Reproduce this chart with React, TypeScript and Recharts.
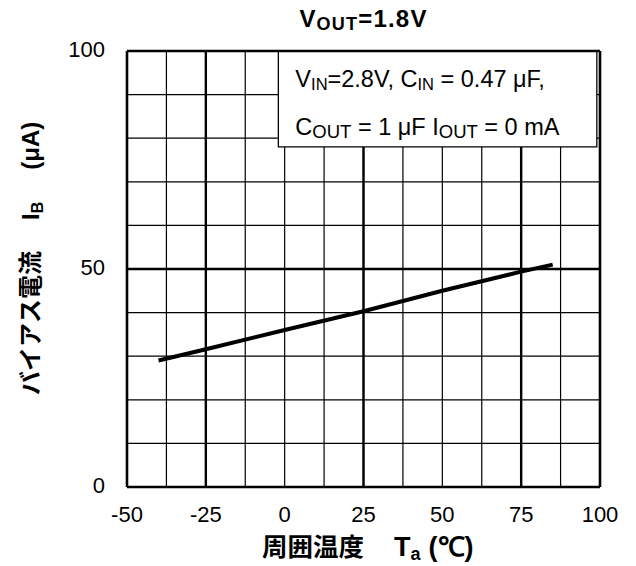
import { CartesianGrid, Label, Line, LineChart, ReferenceArea, ReferenceLine, XAxis, YAxis } from "recharts"

const temps = [-40, -25, 0, 25, 50, 75, 85]
const biasCurrent = [29.0, 31.6, 36.0, 40.3, 45.0, 49.4, 51.0]

const xGridTicks = [-50, -37.5, -25, -12.5, 0, 12.5, 25, 37.5, 50, 62.5, 75, 87.5, 100]
const xLabelTicks = [-50, -25, 0, 25, 50, 75, 100]
const yGridTicks = [0, 10, 20, 30, 40, 50, 60, 70, 80, 90, 100]
const yLabelTicks = [0, 50, 100]
const xMajor = [-25, 25, 75]
const yMajor = [50]

// condition box (in data units)
const boxX = [-2, 99]
const boxY = [78, 100]

const data = temps.map((t, i) => ({ t, ib: biasCurrent[i] }))

const FONT = "'Liberation Sans', Arial, sans-serif"
const JP = "'Noto Sans CJK JP', 'Liberation Sans', sans-serif"

function XTick(props: any) {
  const { x, y, payload } = props
  if (!xLabelTicks.includes(payload.value)) return null
  return (
    <text x={x} y={y + 27} textAnchor="middle" fontFamily={FONT} fontSize={22} fill="#000">
      {payload.value}
    </text>
  )
}

function YTick(props: any) {
  const { x, y, payload } = props
  if (!yLabelTicks.includes(payload.value)) return null
  return (
    <text x={x - 14} y={y + 6} textAnchor="end" fontFamily={FONT} fontSize={22} fill="#000">
      {payload.value}
    </text>
  )
}

function BoxText(props: any) {
  const { viewBox } = props
  const x = viewBox.x + 17
  const y = viewBox.y
  return (
    <text fontFamily={FONT} fontSize={23.5} fill="#000">
      <tspan x={x} y={y + 36}>V</tspan>
      <tspan fontSize={16.5} dy={3}>IN</tspan>
      <tspan dy={-3}>=2.8V, C</tspan>
      <tspan fontSize={16.5} dy={3}>IN</tspan>
      <tspan dy={-3}> = 0.47 μF,</tspan>
      <tspan x={x} y={y + 84}>C</tspan>
      <tspan fontSize={18.5} dy={3}>OUT</tspan>
      <tspan dy={-3}> = 1 μF I</tspan>
      <tspan fontSize={18.5} dy={3}>OUT</tspan>
      <tspan dy={-3}> = 0 mA</tspan>
    </text>
  )
}

function XTitle(props: any) {
  const { viewBox } = props
  const x0 = viewBox.x + 135
  return (
    <text x={x0} y={viewBox.y + 69} textAnchor="start" fontFamily={JP} fontSize={25.5} fontWeight="bold" fill="#000">
      <tspan>周囲温度</tspan>
      <tspan fontFamily={FONT} fontSize={27} dx={30}>T</tspan>
      <tspan fontFamily={FONT} fontSize={18} dy={4}>a</tspan>
      <tspan fontFamily={FONT} fontSize={27} dy={-4} dx={8}>(℃)</tspan>
    </text>
  )
}

function YTitle() {
  const cx = 39
  const cy = 395
  return (
    <text x={cx} y={cy} transform={`rotate(-90 ${cx} ${cy})`} textAnchor="start" fontFamily={JP} fontSize={24} fontWeight="bold" fill="#000">
      <tspan>バイアス電流</tspan>
      <tspan fontFamily={FONT} dx={31}>I</tspan>
      <tspan fontFamily={FONT} fontSize={16} dy={4}>B</tspan>
      <tspan fontFamily={FONT} dy={-4} dx={32}>(μA)</tspan>
    </text>
  )
}

export default function App() {
  return (
    <div style={{ position: "absolute", left: 0, top: 0, width: 636, height: 566, background: "#fff" }}>
      <div
        style={{
          position: "absolute",
          left: 127,
          width: 473,
          top: 4,
          textAlign: "center",
          fontFamily: FONT,
          fontWeight: "bold",
          fontSize: 24,
          letterSpacing: 1.2,
          lineHeight: "30px",
        }}
      >
        V<sub style={{ fontSize: 18, verticalAlign: "-3px" }}>OUT</sub>=1.8V
      </div>
      <LineChart width={636} height={566} data={data} margin={{ top: 51, right: 36, bottom: 0, left: 0 }}>
        <CartesianGrid stroke="#000" strokeWidth={1.2} horizontalValues={yGridTicks} verticalValues={xGridTicks} />
        <XAxis
          type="number"
          dataKey="t"
          domain={[-50, 100]}
          ticks={xGridTicks}
          interval={0}
          height={79}
          axisLine={false}
          tickLine={false}
          tick={<XTick />}
        >
          <Label content={<XTitle />} />
        </XAxis>
        <YAxis
          type="number"
          domain={[0, 100]}
          ticks={yGridTicks}
          interval={0}
          width={127}
          axisLine={false}
          tickLine={false}
          tick={<YTick />}
        >
          <Label content={<YTitle />} />
        </YAxis>
        {xMajor.map((v) =>
          v > boxX[0] ? (
            <ReferenceLine key={"x" + v} segment={[{ x: v, y: 0 }, { x: v, y: boxY[0] }]} stroke="#000" strokeWidth={2.4} />
          ) : (
            <ReferenceLine key={"x" + v} x={v} stroke="#000" strokeWidth={2.4} />
          )
        )}
        {yMajor.map((v) => (
          <ReferenceLine key={"y" + v} y={v} stroke="#000" strokeWidth={2.4} />
        ))}
        <ReferenceArea x1={boxX[0]} x2={boxX[1]} y1={boxY[0]} y2={boxY[1]} fill="#fff" fillOpacity={1} stroke="#000" strokeWidth={1.3}>
          <Label content={<BoxText />} />
        </ReferenceArea>
        <ReferenceLine x={-50} stroke="#000" strokeWidth={2.6} />
        <ReferenceLine x={100} stroke="#000" strokeWidth={2.6} />
        <ReferenceLine y={0} stroke="#000" strokeWidth={2.6} />
        <ReferenceLine y={100} stroke="#000" strokeWidth={2.6} />
        <Line
          dataKey="ib"
          stroke="#000"
          strokeWidth={4}
          dot={false}
          isAnimationActive={false}
          type="linear"
        />
      </LineChart>
    </div>
  )
}
